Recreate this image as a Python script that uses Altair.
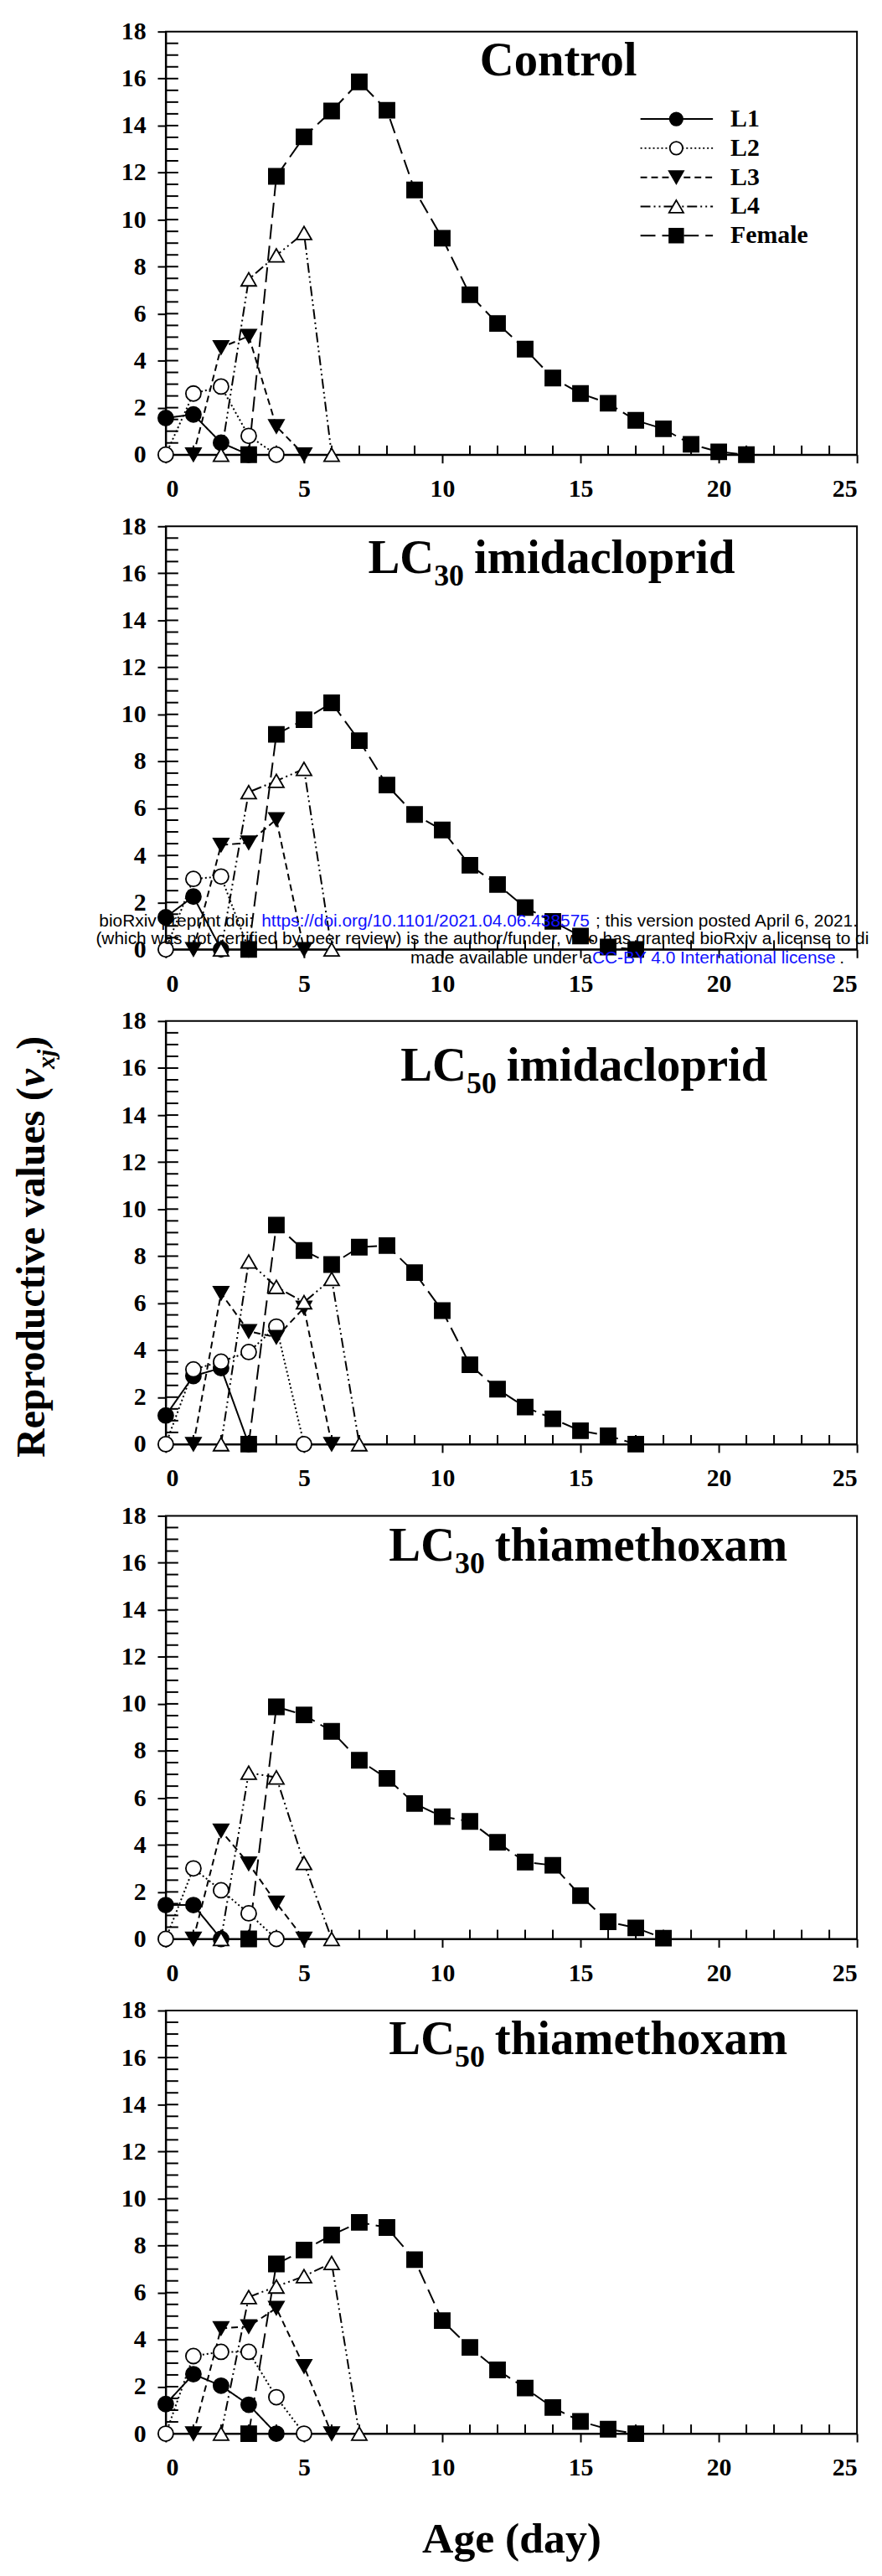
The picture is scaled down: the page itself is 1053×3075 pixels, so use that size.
import altair as alt
import pandas as pd

# ---------------- data ----------------
SERIES = ["L1", "L2", "L3", "L4", "Female"]
START_AGE = [0, 0, 1, 2, 3]

control_L1 = [1.56, 1.71, 0.51, 0.0]
control_L2 = [0.0, 2.6, 2.9, 0.8, 0.0]
control_L3 = [0.0, 4.56, 5.04, 1.2, 0.0]
control_L4 = [0.0, 7.46, 8.48, 9.43, 0.0]
control_F = [0.0, 11.84, 13.52, 14.62, 15.86, 14.65, 11.26, 9.21, 6.80, 5.58,
             4.49, 3.26, 2.60, 2.19, 1.46, 1.10, 0.44, 0.12, 0.0]

imi30_L1 = [1.37, 2.25, 0.0]
imi30_L2 = [0.0, 3.0, 3.1, 0.0]
imi30_L3 = [0.0, 4.44, 4.54, 5.53, 0.0]
imi30_L4 = [0.0, 6.69, 7.17, 7.68, 0.0]
imi30_F = [0.0, 9.15, 9.77, 10.49, 8.88, 6.99, 5.74, 5.08, 3.58, 2.76, 1.78,
           1.19, 0.57, 0.1, 0.0]

imi50_L1 = [1.22, 2.9, 3.24, 0.0]
imi50_L2 = [0.0, 3.18, 3.51, 3.92, 5.0, 0.0]
imi50_L3 = [0.0, 6.42, 4.8, 4.55, 5.8, 0.0]
imi50_L4 = [0.0, 7.77, 6.69, 6.04, 7.03, 0.0]
imi50_F = [0.0, 9.32, 8.24, 7.64, 8.38, 8.45, 7.3, 5.68, 3.38, 2.34, 1.58,
           1.08, 0.57, 0.36, 0.0]

thi30_L1 = [1.44, 1.44, 0.0]
thi30_L2 = [0.0, 3.0, 2.07, 1.09, 0.0]
thi30_L3 = [0.0, 4.6, 3.2, 1.53, 0.0]
thi30_L4 = [0.0, 7.07, 6.87, 3.23, 0.0]
thi30_F = [0.0, 9.87, 9.53, 8.83, 7.6, 6.83, 5.76, 5.2, 5.0, 4.11, 3.27,
           3.13, 1.84, 0.73, 0.47, 0.03]

thi50_L1 = [1.26, 2.53, 2.04, 1.23, 0.0]
thi50_L2 = [0.0, 3.3, 3.48, 3.48, 1.55, 0.0]
thi50_L3 = [0.0, 4.48, 4.56, 5.34, 2.86, 0.0]
thi50_L4 = [0.0, 5.81, 6.26, 6.7, 7.26, 0.0]
thi50_F = [0.0, 7.22, 7.81, 8.45, 8.99, 8.77, 7.4, 4.81, 3.67, 2.71, 1.94,
           1.11, 0.52, 0.19, 0.0]

PANEL_TITLES = [("Control", "", ""),
                ("LC", "30", "imidacloprid"),
                ("LC", "50", "imidacloprid"),
                ("LC", "30", "thiamethoxam"),
                ("LC", "50", "thiamethoxam")]
PANEL_DATA = [
    [control_L1, control_L2, control_L3, control_L4, control_F],
    [imi30_L1, imi30_L2, imi30_L3, imi30_L4, imi30_F],
    [imi50_L1, imi50_L2, imi50_L3, imi50_L4, imi50_F],
    [thi30_L1, thi30_L2, thi30_L3, thi30_L4, thi30_F],
    [thi50_L1, thi50_L2, thi50_L3, thi50_L4, thi50_F],
]

X_TICKS = [0, 5, 10, 15, 20, 25]
Y_TICKS = [0, 2, 4, 6, 8, 10, 12, 14, 16, 18]
X_MINOR = [d for d in range(1, 25) if d % 5 != 0]
Y_MINOR = [i / 2 for i in range(1, 36)]

# ---------------- style ----------------
W, H = 830, 508
SERIF = "Liberation Serif"
SANS = "Liberation Sans"
DASHES = [[1, 0], [2, 3], [8, 5], [12, 4, 2, 4, 2, 4], [18, 8]]
SHAPES = ["circle", "circle", "triangle-down", "triangle-up", "square"]
FILLS = ["black", "white", "black", "white", "black"]
SIZES = [330, 330, 420, 420, 400]

# Times-bold advance widths (em) for laying out multi-part labels
TB = {'R': .722, 'e': .444, 'p': .556, 'r': .444, 'o': .5, 'd': .556, 'u': .556,
      'c': .444, 't': .333, 'i': .278, 'v': .5, ' ': .25, 'a': .5, 'l': .278,
      's': .389, '(': .333, ')': .333, 'L': .667, 'C': .722, '0': .5, '3': .5,
      '5': .5}
TBI = {'v': .444, 'x': .5, 'j': .278}


def tw(s, fs, table=TB):
    return sum(table.get(ch, .5) for ch in s) * fs


TITLE_FS, SUB_FS, SUB_DY = 57, 36, 15
TITLE_POS = [(377, 53), (243, 56), (282, 72), (268, 54), (268, 52)]

xs = alt.Scale(domain=[0, 25], nice=False, zero=False)
ys = alt.Scale(domain=[0, 18], nice=False, zero=False)


def text_layer(txt, x, y, fs, font=SERIF, weight="bold", style="normal",
               color="black", align="left", baseline="alphabetic", angle=0,
               opacity=1.0, limit=None):
    kw = dict(text=txt, font=font, fontSize=fs, fontWeight=weight,
              fontStyle=style, color=color, align=align, baseline=baseline,
              opacity=opacity)
    if angle:
        kw["angle"] = angle
    if limit:
        kw["limit"] = limit
        kw["ellipsis"] = "\u200b"
    return alt.Chart(pd.DataFrame({"k": [0]})).mark_text(**kw).encode(
        x=alt.value(x), y=alt.value(y))


def ytitle_layers(visible):
    op = 1.0 if visible else 0.0
    fs = 48
    xb = -146
    y0 = 524
    main = "Reproductive values ("
    layers = [text_layer(main, xb, y0, fs, angle=270, opacity=op)]
    y1 = y0 - tw(main, fs)
    layers.append(text_layer("v", xb, y1, fs, style="italic", angle=270, opacity=op))
    y2 = y1 - tw("v", fs, TBI)
    layers.append(text_layer("xj", xb + 12, y2, 30, style="italic", angle=270, opacity=op))
    y3 = y2 - tw("xj", 30, TBI)
    layers.append(text_layer(")", xb, y3, fs, angle=270, opacity=op))
    return layers


def build_panel(i):
    rows = []
    for s, start, vals in zip(SERIES, START_AGE, PANEL_DATA[i]):
        for k, v in enumerate(vals):
            rows.append({"series": s, "age": start + k, "value": v})
    df = pd.DataFrame(rows)
    last = i == len(PANEL_DATA) - 1
    x_axis = alt.Axis(values=X_TICKS, tickSize=10, labelPadding=16, grid=False,
                      title="Age (day)" if last else None, titlePadding=45)
    y_axis = alt.Axis(values=Y_TICKS, tickSize=10, labelPadding=14, grid=False,
                      title=None)

    lines = alt.Chart(df).mark_line(strokeWidth=2, color="black").encode(
        x=alt.X("age:Q", scale=xs, axis=x_axis),
        y=alt.Y("value:Q", scale=ys, axis=y_axis),
        detail="series:N",
        strokeDash=alt.StrokeDash("series:N",
                                  scale=alt.Scale(domain=SERIES, range=DASHES),
                                  legend=None),
    )
    pts = alt.Chart(df).mark_point(filled=True, stroke="black", strokeWidth=1.8,
                                   opacity=1).encode(
        x=alt.X("age:Q", scale=xs, axis=x_axis),
        y=alt.Y("value:Q", scale=ys, axis=y_axis),
        shape=alt.Shape("series:N", scale=alt.Scale(domain=SERIES, range=SHAPES),
                        legend=None),
        fill=alt.Fill("series:N", scale=alt.Scale(domain=SERIES, range=FILLS),
                      legend=None),
        size=alt.Size("series:N", scale=alt.Scale(domain=SERIES, range=SIZES),
                      legend=None),
    )
    yminor = alt.Chart(pd.DataFrame({"value": Y_MINOR})).mark_rule(
        color="black", strokeWidth=2).encode(
        y=alt.Y("value:Q", scale=ys, axis=y_axis),
        x=alt.value(0), x2=alt.value(15))
    xminor = alt.Chart(pd.DataFrame({"age": X_MINOR})).mark_rule(
        color="black", strokeWidth=2).encode(
        x=alt.X("age:Q", scale=xs, axis=x_axis),
        y=alt.value(H), y2=alt.value(H - 11))

    layers = [yminor, xminor, lines, pts]

    # panel title with subscript
    big, sub, rest = PANEL_TITLES[i]
    tx, ty = TITLE_POS[i]
    layers.append(text_layer(big, tx, ty, TITLE_FS))
    if sub:
        x2 = tx + tw(big, TITLE_FS)
        layers.append(text_layer(sub, x2, ty + SUB_DY, SUB_FS))
        x3 = x2 + tw(sub, SUB_FS) + 12
        layers.append(text_layer(rest, x3, ty, TITLE_FS))

    # y-axis title (visible on the middle panel only; invisible copies keep alignment)
    layers += ytitle_layers(i == 2)

    # legend on first panel
    if i == 0:
        ly = [105, 140, 175, 210, 245]
        leg_size = [240, 240, 300, 300, 280]
        for j, s in enumerate(SERIES):
            layers.append(
                alt.Chart(pd.DataFrame({"k": [0]})).mark_rule(
                    color="black", strokeWidth=2, strokeDash=DASHES[j]).encode(
                    x=alt.value(570), x2=alt.value(657), y=alt.value(ly[j])))
            layers.append(
                alt.Chart(pd.DataFrame({"k": [0]})).mark_point(
                    shape=SHAPES[j], filled=True, fill=FILLS[j], stroke="black",
                    strokeWidth=1.8, size=leg_size[j], opacity=1).encode(
                    x=alt.value(613), y=alt.value(ly[j])))
            layers.append(text_layer(s, 678, ly[j], 30, baseline="middle"))

    # bioRxiv watermark over the second panel
    if i == 1:
        blue = "#1010ff"
        layers.append(text_layer("bioRxiv preprint doi: ", -80, 475, 21, font=SANS,
                                 weight="normal", baseline="middle"))
        layers.append(text_layer("https://doi.org/10.1101/2021.04.06.438575", 115, 475,
                                 21, font=SANS, weight="normal", color=blue,
                                 baseline="middle"))
        layers.append(text_layer("; this version posted April 6, 2021. The copyright holder for this preprint",
                                 516, 475, 21, font=SANS, weight="normal",
                                 baseline="middle", limit=335))
        layers.append(text_layer("(which was not certified by peer review) is the author/funder, who has granted bioRxiv a license to display the preprint in perpetuity. It is",
                                 -84, 496, 21, font=SANS, weight="normal",
                                 baseline="middle", limit=935))
        layers.append(text_layer("made available under a", 512, 519, 21, font=SANS,
                                 weight="normal", align="right", baseline="middle"))
        layers.append(text_layer("CC-BY 4.0 International license", 512, 519, 21,
                                 font=SANS, weight="normal", color=blue,
                                 baseline="middle"))
        layers.append(text_layer(".", 809, 519, 21, font=SANS, weight="normal",
                                 baseline="middle"))

    return alt.layer(*layers).properties(width=W, height=H)


panels = [build_panel(i) for i in range(len(PANEL_DATA))]

chart = alt.vconcat(*panels, spacing=13).properties(
    padding={"left": 5, "right": 5, "top": 5, "bottom": 0}
).configure_view(
    stroke="black", strokeWidth=2
).configure_axis(
    domainColor="black", domainWidth=2, tickColor="black", tickWidth=2,
    labelFont=SERIF, labelFontWeight="bold", labelFontSize=30,
    labelColor="black", titleFont=SERIF, titleFontWeight="bold",
    titleFontSize=52, titleColor="black", grid=False
)

chart.save("out.html", embed_options={"renderer": "svg", "actions": False})
